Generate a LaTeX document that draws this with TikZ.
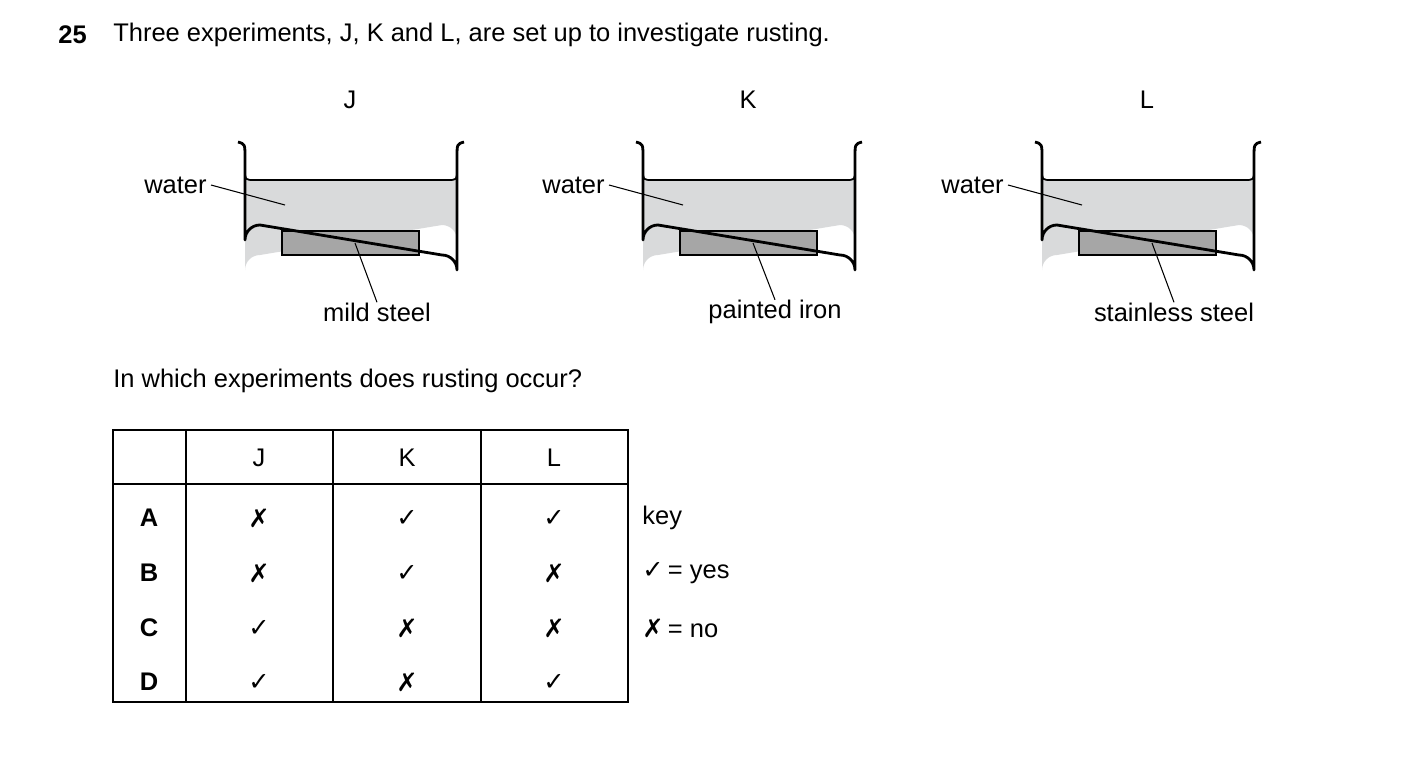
\documentclass[tikz,border=0pt]{standalone}
\usepackage{fontspec}
\setmainfont{Liberation Sans}
\newfontfamily\symfont{DejaVu Sans}
\definecolor{waterfill}{HTML}{D9DADB}
\definecolor{steelfill}{HTML}{A6A6A6}
\newcommand{\yes}{{\symfont\char"2713}}
\newcommand{\no}{{\symfont\char"2717}}
\tikzset{
  txt/.style={inner sep=0pt,font=\fontsize{14.5}{17}\selectfont},
  wall/.style={line width=1.6pt,line join=round},
  leader/.style={line width=0.6pt},
  grid/.style={line width=0.8pt}
}
\begin{document}
\begin{tikzpicture}[x=0.02cm,y=-0.02cm]
  \useasboundingbox (0,0) rectangle (1403,762);
  \node[txt,anchor=west,font=\fontsize{14.5}{17}\selectfont\bfseries] (num) at (58,35) {25};
  \node[txt,anchor=west] (title) at (113,35) {Three experiments, J, K and L, are set up to investigate rusting.};
  % beakers
  \foreach \dx/\lab/\metal in {0/J/mild steel,398/K/painted iron,797/L/stainless steel} {
    \begin{scope}[xshift=\dx*0.02cm]
    \node[txt] (lab\lab) at (350,100) {\lab};
    \fill[waterfill] (245,170) .. controls (245,180) .. (255,180) -- (447,180)
      .. controls (457,180) .. (457,170) -- (457,240) arc (0:90:15 and -15) -- (260,255)
      arc (90:180:15 and -15) -- cycle;
    \draw[line width=1pt] (245,170) .. controls (245,180) .. (255,180) -- (447,180)
      .. controls (457,180) .. (457,170);
    \draw[fill=steelfill,line width=1.4pt] (282,231) rectangle (419,255);
    \draw[wall] (238,142) .. controls (245,144) .. (245,158) -- (245,240)
      arc (180:90:15 and -15) -- (442,255) arc (90:0:15 and -15) -- (457,158)
      .. controls (457,144) .. (464,142);
    \node[txt,anchor=east] (water\lab) at (207,185) {water};
    \draw[leader] (water\lab.east) ++(4,0) -- (285,205);
    \node[txt] (metal\lab) at (377,312) {\metal};
    \draw[leader] (355,243) -- (metal\lab.north) ++(-7,-6);
    \end{scope}
  }
  \node[txt,anchor=west] (question) at (113,381) {In which experiments does rusting occur?};
  % table
  \draw[grid] (113,430) rectangle (628,702);
  \draw[grid] (113,484) -- (628,484);
  \foreach \x in {186,333,481} \draw[grid] (\x,430) -- (\x,702);
  \foreach \c/\x in {J/259,K/407,L/554} \node[txt] (head\c) at (\x,458) {\c};
  \foreach \r/\y/\j/\k/\l in {A/518/\no/\yes/\yes,B/573/\no/\yes/\no,C/628/\yes/\no/\no,D/682/\yes/\no/\yes} {
    \node[txt,font=\fontsize{14.5}{17}\selectfont\bfseries] (row\r) at (149,\y) {\r};
    \node[txt] (j\r) at (259,\y) {\j};
    \node[txt] (k\r) at (407,\y) {\k};
    \node[txt] (l\r) at (554,\y) {\l};
  }
  % key
  \node[txt,anchor=west] (key) at (642,518) {key};
  \node[txt,anchor=west] (keyyes) at (642,573) {\yes\,= yes};
  \node[txt,anchor=west] (keyno) at (642,628) {\no\,= no};
\end{tikzpicture}
\end{document}
